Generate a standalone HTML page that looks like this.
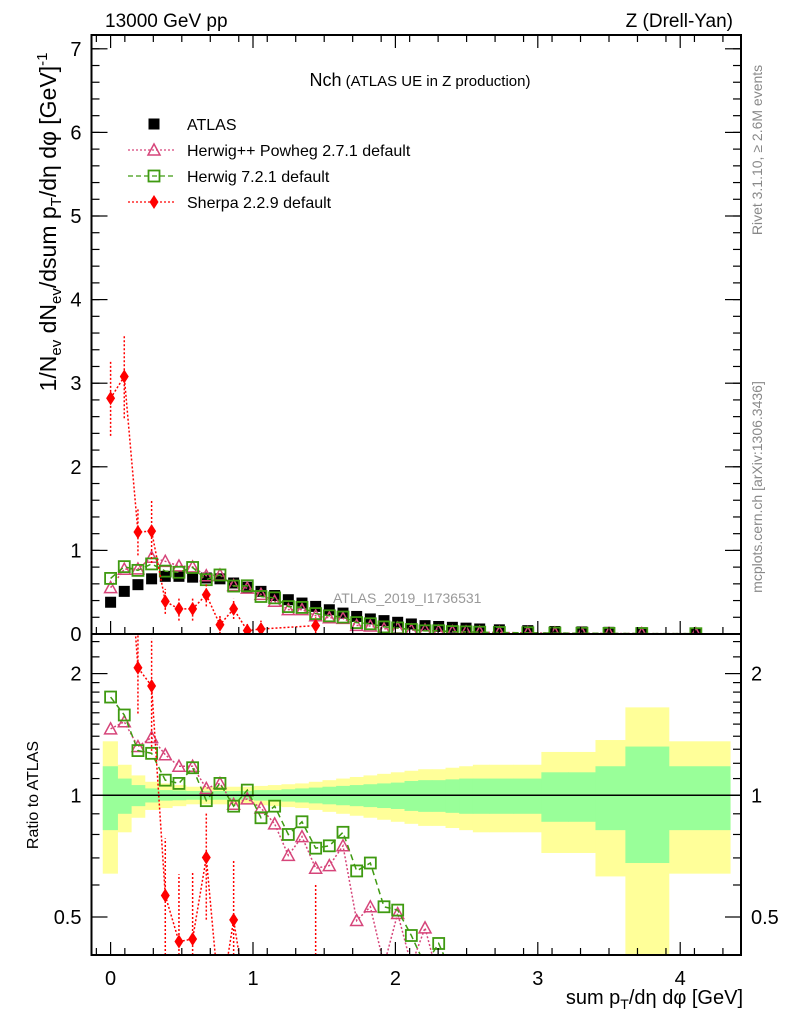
<!DOCTYPE html>
<html><head><meta charset="utf-8">
<style>
html,body{margin:0;padding:0;background:#fff;width:786px;height:1024px;overflow:hidden;}
svg{display:block;font-family:"Liberation Sans",sans-serif;}
</style></head>
<body>
<svg id="chart" width="786" height="1024" viewBox="0 0 786 1024">
<text x="105" y="27" font-size="19">13000 GeV pp</text>
<text x="733" y="27" font-size="19" text-anchor="end">Z (Drell-Yan)</text>
<text x="420" y="86" text-anchor="middle"><tspan font-size="18">Nch</tspan><tspan font-size="15"> (ATLAS UE in Z production)</tspan></text>
<text x="333" y="603" font-size="14" fill="#999">ATLAS_2019_I1736531</text>
<text transform="translate(762,150) rotate(-90)" font-size="14" fill="#888" text-anchor="middle">Rivet 3.1.10, ≥ 2.6M events</text>
<text transform="translate(762,487) rotate(-90)" font-size="14" fill="#888" text-anchor="middle">mcplots.cern.ch [arXiv:1306.3436]</text>
<text transform="translate(56,222) rotate(-90)" font-size="23" text-anchor="middle">1/N<tspan font-size="15" dy="5">ev</tspan><tspan dy="-5"> dN</tspan><tspan font-size="15" dy="5">ev</tspan><tspan dy="-5">/dsum p</tspan><tspan font-size="15" dy="5">T</tspan><tspan dy="-5">/dη dφ  [GeV]</tspan><tspan font-size="15" dy="-9">-1</tspan></text>
<text transform="translate(38,795) rotate(-90)" font-size="16" text-anchor="middle">Ratio to ATLAS</text>
<text x="743" y="1004" font-size="20" text-anchor="end">sum p<tspan font-size="14" dy="5">T</tspan><tspan dy="-5">/dη dφ [GeV]</tspan></text>
<g id="bands"></g><g id="plots"></g><g id="axes"></g><g id="legend"></g>
</svg>
<script>
const xs = [0,0.096,0.192,0.288,0.384,0.48,0.576,0.672,0.768,0.864,0.96,1.056,1.152,1.248,1.344,1.44,1.536,1.632,1.728,1.824,1.92,2.016,2.112,2.208,2.304,2.4,2.496,2.592,2.73,2.93,3.12,3.31,3.50,3.73,4.11];
const atlas = [0.38,0.51,0.59,0.66,0.69,0.69,0.68,0.67,0.66,0.61,0.56,0.51,0.46,0.41,0.37,0.33,0.29,0.25,0.21,0.18,0.16,0.14,0.12,0.10,0.09,0.08,0.07,0.06,0.05,0.04,0.03,0.025,0.02,0.015,0.01];
const errYellow = [0.36,0.19,0.12,0.08,0.07,0.06,0.05,0.05,0.05,0.05,0.05,0.055,0.06,0.065,0.07,0.08,0.09,0.10,0.11,0.12,0.13,0.14,0.15,0.16,0.16,0.17,0.18,0.19,0.19,0.19,0.28,0.28,0.37,0.65,0.36];
const errGreen = [0.18,0.10,0.06,0.04,0.03,0.028,0.025,0.025,0.025,0.025,0.025,0.03,0.03,0.035,0.04,0.045,0.05,0.055,0.06,0.065,0.07,0.075,0.085,0.09,0.09,0.095,0.10,0.10,0.10,0.10,0.14,0.14,0.18,0.32,0.18];
const herwigPPRatio = [1.46,1.52,1.32,1.39,1.26,1.18,1.18,1.04,1.07,0.95,0.98,0.93,0.85,0.71,0.79,0.66,0.67,0.75,0.49,0.53,0.38,0.51,0.38,0.47,0.35,0.35,0.35,0.35,0.35,0.35,0.35,0.35,0.35,0.35,0.35];
const herwig7Ratio = [1.75,1.58,1.29,1.27,1.09,1.07,1.17,0.97,1.07,0.94,1.03,0.88,0.94,0.80,0.86,0.74,0.75,0.81,0.65,0.68,0.53,0.52,0.45,0.38,0.43,0.36,0.36,0.36,0.36,0.36,0.36,0.36,0.36,0.36,0.36];
const sherpaIdx = [0,1,2,3,4,5,6,7,8,9,10,11,15];
const sherpaVal = [2.82,3.08,1.22,1.23,0.39,0.30,0.30,0.47,0.11,0.30,0.04,0.06,0.10];
const sherpaErr = [0.45,0.50,0.28,0.38,0.15,0.14,0.14,0.14,0.12,0.12,0.10,0.10,0.10];
const yTicks = [0,1,2,3,4,5,6,7];
const rTicks = [0.5,1,2];
const xTicks = [0,1,2,3,4];

const L=91.5,R=741,T=35,M=634,B=955;
const X=v=>110.6+v*142.4;
const Y=v=>634-83.6*v;
const RY=r=>795.3-121.7*Math.log2(Math.max(r,0.3));
const NS='http://www.w3.org/2000/svg';
function mk(tag,attrs,parent){const e=document.createElementNS(NS,tag);for(const k in attrs)e.setAttribute(k,attrs[k]);parent.appendChild(e);return e;}
const svgEl=document.getElementById('chart');
const gB=document.getElementById('bands'),gP=document.getElementById('plots'),gA=document.getElementById('axes'),gL=document.getElementById('legend');
const defs=mk('defs',{},svgEl);
const cp1=mk('clipPath',{id:'cTop'},defs);mk('rect',{x:L,y:T,width:R-L,height:M-T},cp1);
const cp2=mk('clipPath',{id:'cRat'},defs);mk('rect',{x:L,y:M,width:R-L,height:B-M},cp2);
gB.setAttribute('clip-path','url(#cRat)');
const gTop=mk('g',{'clip-path':'url(#cTop)'},gP);
const gRat=mk('g',{'clip-path':'url(#cRat)'},gP);

const edges=[];
edges.push(-0.055);
for(let i=0;i<xs.length-1;i++)edges.push((xs[i]+xs[i+1])/2);
edges.push(4.35);
for(let i=0;i<xs.length;i++){
  const x0=X(edges[i]),x1=X(edges[i+1]);
  const yt=RY(1+errYellow[i]),yb=Math.min(RY(1-errYellow[i]),B);
  const y=mk('rect',{x:x0,y:yt,width:x1-x0+0.5,height:yb-yt,fill:'#ffff99'},gB);
  
  
}
for(let i=0;i<xs.length;i++){
  const x0=X(edges[i]),x1=X(edges[i+1]);
  const g=mk('rect',{x:x0,y:RY(1+errGreen[i]),width:x1-x0+0.5,height:RY(1-errGreen[i])-RY(1+errGreen[i]),fill:'#99ff99'},gB);
  
  
}
const one=mk('line',{x1:L,x2:R,y1:RY(1),y2:RY(1),stroke:'#000','stroke-width':1.5},gA);



function poly(pts,color,dash,parent,name){
  const p=mk('polyline',{points:pts.map(p=>p.join(',')).join(' '),fill:'none',stroke:color,'stroke-width':1.5,'stroke-dasharray':dash},parent);
  
  
}
function tri(x,y,c,parent,name){
  const e=mk('polygon',{points:`${x-6},${y+5} ${x+6},${y+5} ${x},${y-6}`,fill:'none',stroke:c,'stroke-width':1.5},parent);
  
  
}
function sq(x,y,c,fill,parent,name){
  const e=mk('rect',{x:x-5.5,y:y-5.5,width:11,height:11,fill:fill,stroke:c,'stroke-width':fill==='none'?1.8:0},parent);
  
  
}
function dia(x,y,parent,name){
  const e=mk('polygon',{points:`${x},${y-7} ${x+4.5},${y} ${x},${y+7} ${x-4.5},${y}`,fill:'#ff0000'},parent);
  
  
}
function ebar(x,y1,y2,parent,lo,hi){
  const a=Math.min(Math.max(y1,lo),hi),b=Math.min(Math.max(y2,lo),hi);
  const e=mk('line',{x1:x,x2:x,y1:a,y2:b,stroke:'#ff0000','stroke-width':1.5,'stroke-dasharray':'2,2'},parent);
  
  
}
xs.forEach((x,i)=>sq(X(x),Y(atlas[i]),'#000','#000',gTop,'atlas-point'));
const hpp=xs.map((x,i)=>[X(x),Y(herwigPPRatio[i]*atlas[i])]);
poly(hpp,'#d6457a','2,2',gTop,'herwigpp-line');
hpp.forEach(p=>tri(p[0],p[1],'#d6457a',gTop,'herwigpp-point'));
const hppR=xs.map((x,i)=>[X(x),RY(herwigPPRatio[i])]);
poly(hppR,'#d6457a','2,2',gRat,'herwigpp-ratio-line');
hppR.forEach(p=>tri(p[0],p[1],'#d6457a',gRat,'herwigpp-ratio-point'));
const h7=xs.map((x,i)=>[X(x),Y(herwig7Ratio[i]*atlas[i])]);
poly(h7,'#3f9a11','6,4',gTop,'herwig7-line');
h7.forEach(p=>sq(p[0],p[1],'#3f9a11','none',gTop,'herwig7-point'));
const h7R=xs.map((x,i)=>[X(x),RY(herwig7Ratio[i])]);
poly(h7R,'#3f9a11','6,4',gRat,'herwig7-ratio-line');
h7R.forEach(p=>sq(p[0],p[1],'#3f9a11','none',gRat,'herwig7-ratio-point'));
const sh=sherpaIdx.map((k,j)=>[X(xs[k]),Y(sherpaVal[j])]);
poly(sh,'#ff0000','2,2',gTop,'sherpa-line');
sherpaIdx.forEach((k,j)=>{ebar(X(xs[k]),Y(sherpaVal[j]-sherpaErr[j]),Y(sherpaVal[j]+sherpaErr[j]),gTop,T,M);dia(sh[j][0],sh[j][1],gTop,'sherpa-point');});
const shR=sherpaIdx.map((k,j)=>[X(xs[k]),RY(sherpaVal[j]/atlas[k])]);
poly(shR,'#ff0000','2,2',gRat,'sherpa-ratio-line');
sherpaIdx.forEach((k,j)=>{
  const r=sherpaVal[j]/atlas[k],e=sherpaErr[j]/atlas[k];
  ebar(X(xs[k]),RY(r-e),RY(r+e),gRat,M,B);
  dia(shR[j][0],shR[j][1],gRat,'sherpa-ratio-point');
});
[[T,M],[M,B]].forEach(([a,b])=>{
  const f=mk('rect',{x:L,y:a,width:R-L,height:b-a,fill:'none',stroke:'#000','stroke-width':2},gA);
  
  
});
function ln(x1,y1,x2,y2){mk('line',{x1,y1,x2,y2,stroke:'#000','stroke-width':1.2},gA);}
function txt(x,y,s,anchor,size,name){
  const t=mk('text',{x,y,'text-anchor':anchor,'font-size':size},gA);t.textContent=s;
  
  
}
yTicks.forEach(v=>{const y=Y(v);ln(L,y,L+16,y);ln(R,y,R-16,y);txt(L-10,y+7,String(v),'end',20,'y-tick-label');});
for(let v=0;v<7.2;v+=0.2){const y=Y(v);if(y<T)break;ln(L,y,L+8,y);ln(R,y,R-8,y);}
xTicks.forEach(v=>{const x=X(v);[M,B].forEach(yb=>{ln(x,yb,x,yb-13);});ln(x,T,x,T+13);txt(x,985,String(v),'middle',20,'x-tick-label');});
for(let v=-0.1;v<4.4;v+=0.2){const x=X(v);if(x<L||x>R)continue;[M,B].forEach(yb=>ln(x,yb,x,yb-7));ln(x,T,x,T+7);}
rTicks.forEach(v=>{const y=RY(v);ln(L,y,L+16,y);ln(R,y,R-16,y);txt(L-10,y+7,String(v),'end',20,'ratio-tick-label');txt(R+10,y+7,String(v),'start',20,'ratio-tick-label-right');});
[0.4,0.6,0.7,0.8,0.9,1.1,1.2,1.3,1.4,1.5,1.6,1.7,1.8,1.9,2.2,2.4].forEach(v=>{const y=RY(v);if(y<M||y>B)return;ln(L,y,L+8,y);ln(R,y,R-8,y);});
const lg=[['ATLAS','atlas'],['Herwig++ Powheg 2.7.1 default','hpp'],['Herwig 7.2.1 default','h7'],['Sherpa 2.2.9 default','sh']];
lg.forEach((e,i)=>{
  const y=124+i*26;
  const g=mk('g',{},gL);
  
  
  if(e[1]==='atlas')sq(154,y,'#000','#000',g,'legend-marker');
  if(e[1]==='hpp'){mk('line',{x1:128,x2:176,y1:y,y2:y,stroke:'#d6457a','stroke-dasharray':'2,2','stroke-width':1.2},g);tri(154,y,'#d6457a',g,'legend-marker');}
  if(e[1]==='h7'){mk('line',{x1:128,x2:176,y1:y,y2:y,stroke:'#3f9a11','stroke-dasharray':'5,3','stroke-width':1.2},g);sq(154,y,'#3f9a11','none',g,'legend-marker');}
  if(e[1]==='sh'){mk('line',{x1:128,x2:176,y1:y,y2:y,stroke:'#ff0000','stroke-dasharray':'2,2','stroke-width':1.2},g);dia(154,y,g,'legend-marker');}
  const t=mk('text',{x:187,y:y+6,'font-size':16},g);t.textContent=e[0];
});
</script>
</body></html>
